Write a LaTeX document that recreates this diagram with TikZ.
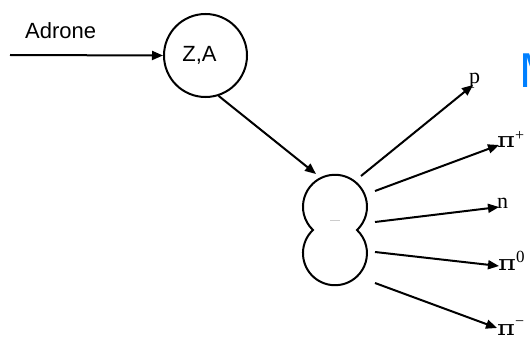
\documentclass[tikz,border=0pt]{standalone}
\usepackage{fontspec}
\setmainfont{Liberation Serif}
\newfontfamily\arialf{Liberation Sans}
\newfontfamily\pif{DejaVu Serif}
\usetikzlibrary{arrows.meta}
\definecolor{mblue}{RGB}{0,128,255}
\newcommand{\pisym}{{\pif\fontsize{21}{21}\selectfont\scalebox{1.3}[1]{π}}}
\begin{document}
\begin{tikzpicture}[x=1pt,y=1pt,
  ln/.style={line width=2pt},
  arr/.style={ln,-{Triangle[length=11pt,width=9pt]}},
  sanslbl/.style={font=\arialf\fontsize{22}{22}\selectfont,inner sep=0pt},
  partlbl/.style={font=\fontsize{22}{22}\selectfont,inner sep=0pt,anchor=base west}]
\useasboundingbox (0,0) rectangle (530,338);
% incoming hadron
\coordinate (ain) at (10,283);
\node[sanslbl,anchor=base west] (adr) at (25,299) {Adrone};
\node[draw,ln,circle,minimum size=83pt,inner sep=0pt] (za) at (205.5,282.5) {};
\node[sanslbl] (zat) at (199.5,283) {Z,A};
\draw[arr] (ain) -- (za.west);
% peanut (fissioning nucleus)
\draw[ln] (357,108) arc[start angle=-46.5,end angle=226.5,radius=32]
  arc[start angle=133.5,end angle=406.5,radius=32] -- cycle;
\draw[gray!40,line width=0.8pt] (330,118) -- (340,118);
\coordinate (nuc) at (316,164);
\draw[arr] (za.-72) -- (nuc);
% outgoing particles
\coordinate (s1) at (361,162);
\coordinate (s2) at (375,147);
\coordinate (s3) at (375,116);
\coordinate (s4) at (375,86);
\coordinate (s5) at (375,55);
\coordinate (e1) at (473,253);
\coordinate (e2) at (499,193);
\coordinate (e3) at (499,131);
\coordinate (e4) at (499,72);
\coordinate (e5) at (497,10);
\draw[arr] (s1) -- (e1);
\draw[arr] (s2) -- (e2);
\draw[arr] (s3) -- (e3);
\draw[arr] (s4) -- (e4);
\draw[arr] (s5) -- (e5);
\node[partlbl] (lp) at (469,254) {p};
\node[partlbl] (lpip) at (497,190) {\pisym\raisebox{8pt}{\fontsize{16}{16}\selectfont +}};
\node[partlbl] (ln) at (497,130) {n};
\node[partlbl] (lpi0) at (498,68) {\pisym\raisebox{8pt}{\fontsize{17}{17}\selectfont 0}};
\node[partlbl] (lpim) at (497,3) {\pisym\raisebox{9pt}{\fontsize{16}{16}\selectfont −}};
% cut-off blue letter
\node[font=\arialf\fontsize{49}{49}\selectfont,text=mblue,inner sep=0pt,anchor=base west] (mm) at (519.5,250) {M};
\end{tikzpicture}
\end{document}
